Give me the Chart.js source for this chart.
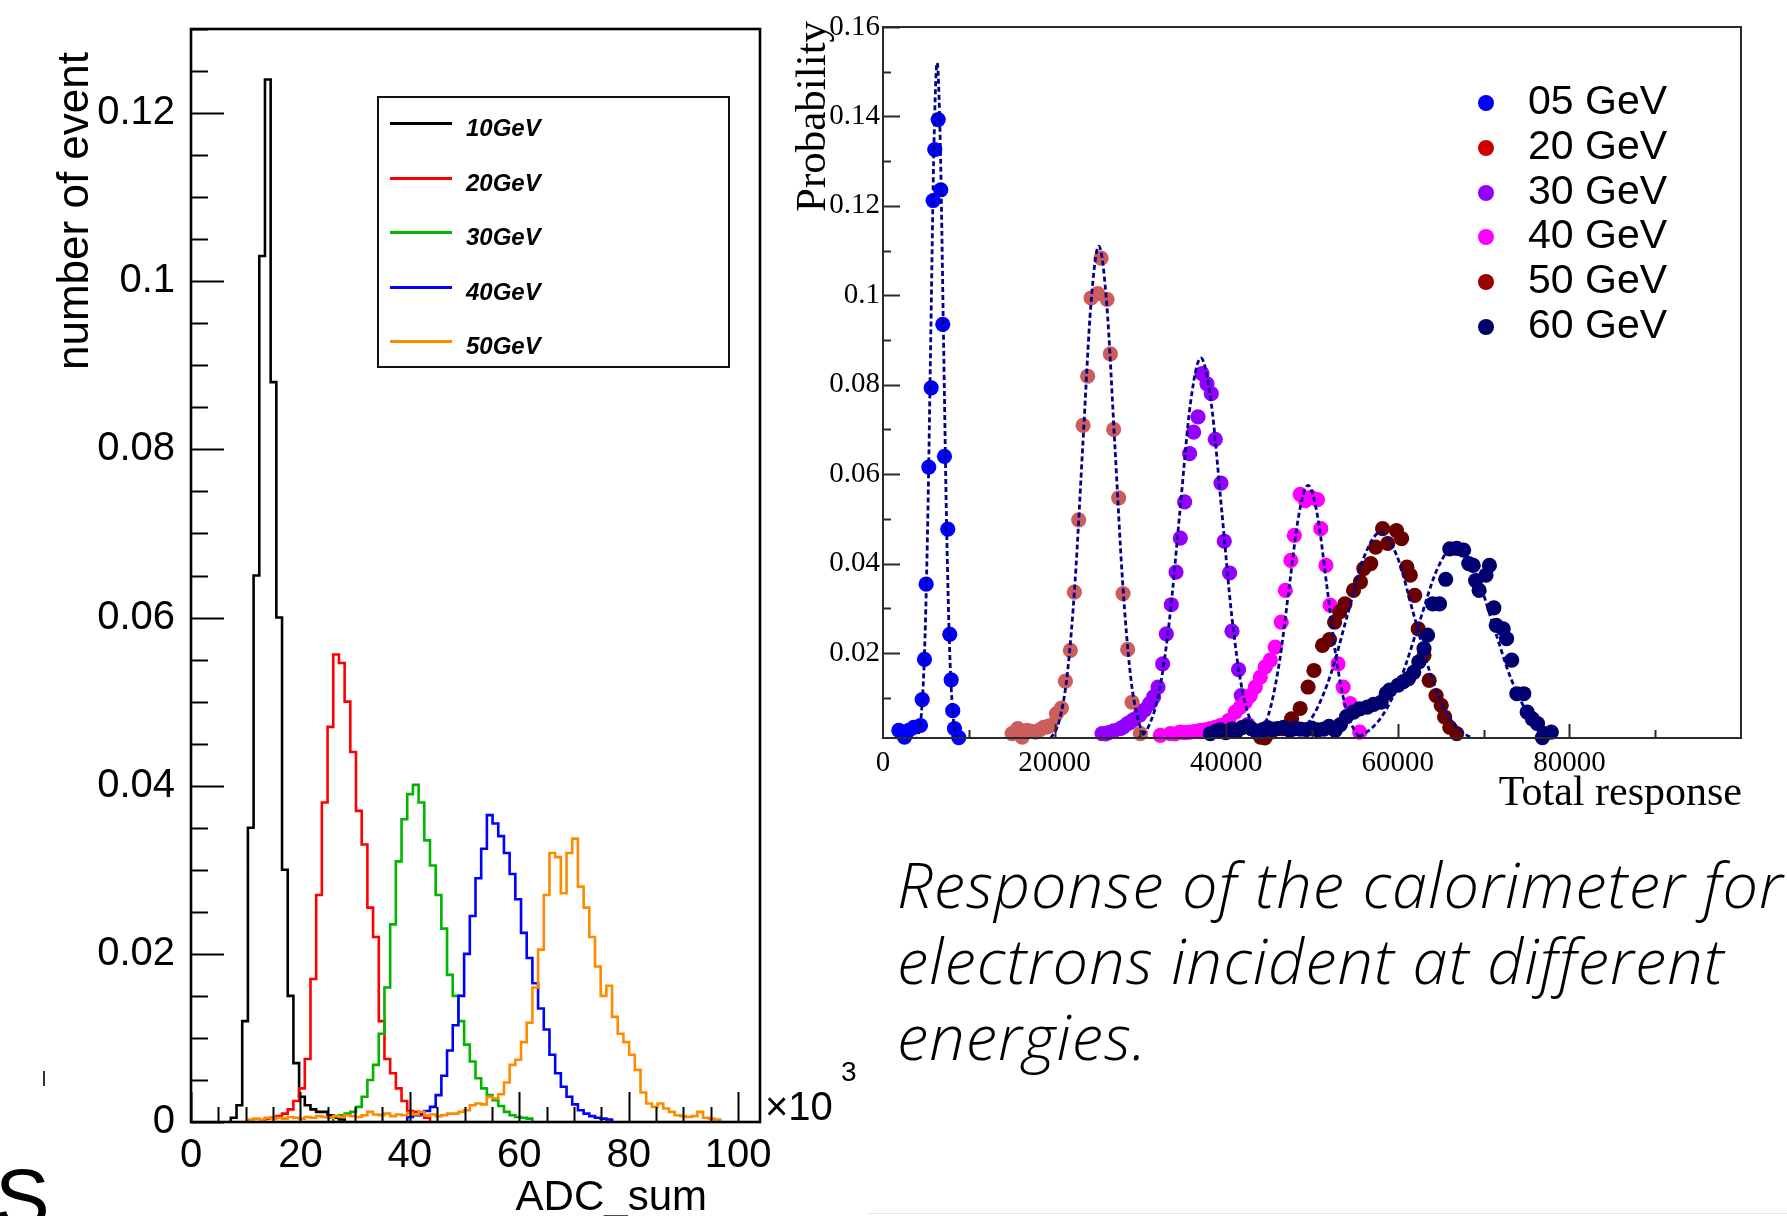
<!DOCTYPE html>
<html>
<head>
<meta charset="utf-8">
<title>Calorimeter response to electrons</title>
<script src="https://cdn.jsdelivr.net/npm/chart.js@4.4.1/dist/chart.umd.min.js"></script>
<style>
  html, body { margin: 0; padding: 0; background: #fff; }
  body { position: relative; width: 1787px; height: 1216px; overflow: hidden;
         font-family: "Liberation Sans", Arial, sans-serif; color: #000; }
  canvas { position: absolute; }
  #histCanvas { left: 0; top: 0; }
  #respCanvas { left: 780px; top: 0; }
  .txt { position: absolute; white-space: nowrap; }
  .rot { transform-origin: 0 0; }
  .hleg { position: absolute; left: 377px; top: 96px; width: 349px; height: 268px; border: 2px solid #111; }
  .hleg-line { position: absolute; left: 390px; width: 62px; height: 3px; }
  .hleg-text { position: absolute; left: 466px; font: italic bold 24px/24px "Liberation Sans", Arial, sans-serif; }
  .rleg-dot { position: absolute; width: 16px; height: 16px; border-radius: 50%; }
  .rleg-text { position: absolute; left: 1528px; font: 41px/41px "Liberation Sans", Arial, sans-serif; }
  .caption { position: absolute; left: 897px; top: 846px; font-family: "Open Sans", sans-serif;
             font-style: italic; font-weight: 300; font-size: 63px; line-height: 76px;
             letter-spacing: 1.1px; white-space: nowrap; }
</style>
</head>
<body>
<canvas id="histCanvas" width="880" height="1216"></canvas>
<canvas id="respCanvas" width="1007" height="830"></canvas>

<!-- ADC_sum histogram: axis titles and legend -->
<div class="txt rot" style="left:0;top:0;font-size:44px;line-height:44px;transform:translate(51px,370px) rotate(-90deg);">number of event</div>
<div class="txt" style="right:1080px;top:1175px;font-size:42px;line-height:42px;">ADC_sum</div>
<div class="txt" style="left:765px;top:1086px;font-size:40px;line-height:40px;">×10</div>
<div class="txt" style="left:841px;top:1058px;font-size:28px;line-height:28px;">3</div>

<div class="hleg"></div>
<div id="histLegend"></div>

<!-- Total response plot: axis titles and legend -->
<div class="txt rot" style="left:0;top:0;font-family:'Liberation Serif','Times New Roman',serif;font-size:43px;line-height:43px;transform:translate(789px,212px) rotate(-90deg);">Probability</div>
<div class="txt" style="right:45px;top:770px;font-family:'Liberation Serif','Times New Roman',serif;font-size:42px;line-height:42px;">Total response</div>
<div id="respLegend"></div>

<div class="caption">Response of the calorimeter for<br>electrons incident at different<br>energies.</div>

<div class="txt" style="left:-5px;top:1157px;font-family:'Liberation Sans',Arial,sans-serif;font-weight:400;font-style:normal;font-size:82px;line-height:82px;">S</div>
<div style="position:absolute;left:43px;top:1071px;width:2px;height:15px;background:#333;"></div>
<div style="position:absolute;left:868px;top:1213px;width:919px;height:1px;background:#e6e6e6;"></div>

<script>
// ---------- ADC_sum histograms (bin width 1.04 ×10³ counts) ----------
const ADC_BIN = 1.04;

const histLabels = ['10GeV', '20GeV', '30GeV', '40GeV', '50GeV'];
const histColors = ['#000000', '#ff0000', '#00b400', '#0000ff', '#ff8a00'];

const h10Start = 7;
const h10 = [0.0005, 0.002, 0.012, 0.035, 0.065, 0.103, 0.124, 0.088, 0.060, 0.030,
             0.015, 0.007, 0.003, 0.002, 0.0015, 0.0012, 0.0012, 0.0008, 0.0005, 0.0003];

const h20Start = 13;
const h20 = [0.0004, 0.0005, 0.0007, 0.001, 0.0015, 0.0025, 0.004, 0.0075, 0.017, 0.027,
             0.038, 0.047, 0.0556, 0.0546, 0.050, 0.044, 0.037, 0.033, 0.0255, 0.022,
             0.012, 0.0075, 0.0058, 0.004, 0.0025, 0.0013, 0.0012, 0.0008, 0.0005];

const h30Start = 25;
const h30 = [0.0007, 0.0008, 0.001, 0.0012, 0.0018, 0.003, 0.005, 0.0068, 0.0105, 0.016,
             0.0235, 0.031, 0.036, 0.039, 0.0401, 0.038, 0.0335, 0.0305, 0.027, 0.023,
             0.0175, 0.015, 0.012, 0.0092, 0.0072, 0.0052, 0.004, 0.0032, 0.0026, 0.0019,
             0.0012, 0.0008, 0.0006, 0.0005, 0.0004];

const h40Start = 38;
const h40 = [0.0006, 0.0008, 0.001, 0.0013, 0.0018, 0.0032, 0.0055, 0.0085, 0.0115, 0.015,
             0.020, 0.0245, 0.029, 0.0325, 0.0365, 0.0355, 0.034, 0.032, 0.0295, 0.0265,
             0.0225, 0.0195, 0.0165, 0.0135, 0.011, 0.008, 0.0058, 0.0042, 0.003, 0.0021,
             0.0014, 0.001, 0.0007, 0.0005, 0.0004, 0.0003];

const h50Start = 10;
const h50 = [0.0003, 0.0004, 0.0003, 0.0005, 0.0004, 0.0005, 0.0004, 0.0006, 0.0005, 0.0004,
             0.0006, 0.0005, 0.0007, 0.0006, 0.0005, 0.0007, 0.0006, 0.0008, 0.0007, 0.0006,
             0.0008, 0.0012, 0.0009, 0.0008, 0.001, 0.0007, 0.0009, 0.0008, 0.0011, 0.0009,
             0.0012, 0.0008, 0.0009,
             0.0007, 0.0008, 0.001, 0.001, 0.0012, 0.0014, 0.002, 0.0022, 0.0021, 0.003,
             0.0028, 0.0033, 0.0047, 0.0068, 0.0074, 0.0095, 0.0118, 0.016, 0.0205, 0.027,
             0.032, 0.0315, 0.0272, 0.032, 0.0337, 0.028, 0.0255, 0.022, 0.0185, 0.015,
             0.0162, 0.0125, 0.0105, 0.0095, 0.008, 0.0062, 0.0035, 0.0022, 0.0018, 0.0022,
             0.0016, 0.0012, 0.0008, 0.0007, 0.0006, 0.0007, 0.0012, 0.0005, 0.0004, 0.0003];

const histXTicks = [0, 20, 40, 60, 80, 100];
const histXLabels = ['0', '20', '40', '60', '80', '100'];
const histYTicks = [0, 0.02, 0.04, 0.06, 0.08, 0.1, 0.12];
const histYLabels = ['0', '0.02', '0.04', '0.06', '0.08', '0.1', '0.12'];

// ---------- Total response (points + gaussian fits) ----------
const respLabels = ['05 GeV', '20 GeV', '30 GeV', '40 GeV', '50 GeV', '60 GeV'];
const respPointColors = ['#0000ff', '#cd5c5c', '#9400ff', '#ff00ff', '#6a0000', '#00006e'];
const respLegendColors = ['#0000ff', '#cc0000', '#9400ff', '#ff00ff', '#990000', '#000066'];

const e05X = [1841, 2236, 2505, 3005, 3587, 4368, 4566, 4834, 5031, 5334, 5614, 5846, 6035, 6430, 6732, 6965, 7164, 7548, 7780, 7944, 8130, 8328, 8829];
const e05Y = [0.0027, 0.0023, 0.0012, 0.0027, 0.0034, 0.0038, 0.0096, 0.0186, 0.0354, 0.0616, 0.0793, 0.1212, 0.1326, 0.1393, 0.1236, 0.0935, 0.0640, 0.0477, 0.0242, 0.0140, 0.0071, 0.0031, 0.0011];

const e20X = [15049, 15703, 16214, 16796, 17262, 17764, 18249, 18731, 19136, 19510, 20210, 20792, 21258, 21840, 22307, 22807, 23319, 23855, 24251, 25019, 25416, 26114, 26499, 26883, 27466, 27979, 28515, 29028, 29994];
const e20Y = [0.0020, 0.0031, 0.0012, 0.0027, 0.0025, 0.0023, 0.0028, 0.0034, 0.0035, 0.0038, 0.0064, 0.0077, 0.0137, 0.0206, 0.0336, 0.0498, 0.0709, 0.0819, 0.0994, 0.1004, 0.1083, 0.0991, 0.0869, 0.0700, 0.0547, 0.0333, 0.0208, 0.0090, 0.0020];

const e30X = [25532, 25945, 26301, 26883, 27665, 28017, 28515, 28806, 29213, 29913, 30495, 31077, 31543, 32055, 32591, 33022, 33604, 34152, 34652, 35153, 35735, 36202, 36713, 37179, 37761, 38262, 38729, 39390, 39775, 40394, 40674, 41442, 41757, 42521];
const e30Y = [0.0020, 0.0019, 0.0022, 0.0026, 0.0031, 0.0035, 0.0042, 0.0045, 0.0051, 0.0061, 0.0073, 0.0087, 0.0102, 0.0124, 0.0176, 0.0243, 0.0308, 0.0381, 0.0457, 0.0538, 0.0646, 0.0694, 0.0728, 0.0825, 0.0802, 0.0780, 0.0678, 0.0580, 0.0450, 0.0379, 0.0249, 0.0163, 0.0105, 0.0040];

const e40X = [32324, 33488, 34036, 34653, 35219, 35818, 36403, 36983, 37538, 38148, 38722, 39313, 40277, 41060, 41642, 42224, 42807, 43389, 43972, 44554, 45136, 45718, 46416, 46898, 47536, 47944, 48618, 49219, 49900, 50627, 51023, 51624, 52105, 53032, 53633, 54439, 55558];
const e40Y = [0.0016, 0.0020, 0.0019, 0.0023, 0.0022, 0.0023, 0.0025, 0.0027, 0.0028, 0.0031, 0.0034, 0.0038, 0.0049, 0.0068, 0.0079, 0.0090, 0.0105, 0.0124, 0.0146, 0.0169, 0.0184, 0.0213, 0.0269, 0.0340, 0.0407, 0.0463, 0.0555, 0.0541, 0.0548, 0.0543, 0.0478, 0.0396, 0.0307, 0.0176, 0.0124, 0.0087, 0.0023];

const e50X = [44011, 44495, 45214, 46622, 47621, 48618, 49543, 50228, 51227, 52034, 52636, 53237, 53839, 54841, 55644, 56039, 56846, 57427, 58229, 58830, 59841, 60442, 61057, 61454, 61973, 62379, 63053, 63655, 64461, 65062, 65458, 66059, 66866];
const e50Y = [0.0012, 0.0010, 0.0023, 0.0031, 0.0053, 0.0076, 0.0124, 0.0161, 0.0217, 0.0230, 0.0269, 0.0292, 0.0310, 0.0340, 0.0359, 0.0389, 0.0400, 0.0437, 0.0478, 0.0445, 0.0474, 0.0456, 0.0392, 0.0374, 0.0329, 0.0254, 0.0195, 0.0139, 0.0105, 0.0083, 0.0057, 0.0034, 0.0020];

const e60X = [38148, 38772, 39315, 39956, 40647, 41239, 41831, 42423, 42917, 43508, 44199, 44791, 45383, 45975, 46692, 47405, 48016, 48628, 49341, 49953, 50666, 51380, 51991, 52704, 53316, 54029, 54842, 55557, 56444, 57188, 58049, 58651, 59050, 60041, 60653, 61254, 61852, 62453, 63054, 63464, 64066, 64861, 65580, 66060, 66868, 67663, 68272, 68790, 69069, 69477, 70272, 70680, 71197, 71474, 72279, 72676, 73277, 73878, 74683, 75080, 75681, 76282, 76853, 77087, 77892];
const e60Y = [0.0020, 0.0025, 0.0028, 0.0022, 0.0030, 0.0026, 0.0033, 0.0036, 0.0031, 0.0025, 0.0028, 0.0033, 0.0030, 0.0031, 0.0034, 0.0027, 0.0031, 0.0030, 0.0029, 0.0032, 0.0028, 0.0030, 0.0036, 0.0027, 0.0040, 0.0058, 0.0068, 0.0075, 0.0079, 0.0085, 0.0090, 0.0110, 0.0117, 0.0128, 0.0136, 0.0143, 0.0157, 0.0180, 0.0210, 0.0240, 0.0310, 0.0310, 0.0365, 0.0433, 0.0434, 0.0430, 0.0400, 0.0396, 0.0362, 0.0340, 0.0374, 0.0396, 0.0301, 0.0262, 0.0254, 0.0232, 0.0184, 0.0109, 0.0109, 0.0068, 0.0053, 0.0042, 0.0011, 0.0020, 0.0023];

// fitted curves, sampled along each peak
const fit05X = [3754, 4119, 4484, 4849, 5214, 5579, 5944, 6309, 6674, 7039, 7404, 7769, 8134, 8500, 8865];
const fit05Y = [0.0003, 0.0017, 0.0067, 0.0206, 0.0494, 0.0922, 0.1341, 0.1520, 0.1341, 0.0922, 0.0494, 0.0206, 0.0067, 0.0017, 0.0003];
const fit20X = [18697, 19620, 20542, 21465, 22387, 23310, 24232, 25155, 26078, 27000, 27923, 28845, 29768, 30690, 31613];
const fit20Y = [0.0002, 0.0012, 0.0049, 0.0150, 0.0360, 0.0673, 0.0980, 0.1110, 0.0980, 0.0673, 0.0360, 0.0150, 0.0049, 0.0012, 0.0002];
const fit30X = [28586, 29795, 31003, 32212, 33420, 34629, 35837, 37045, 38254, 39462, 40671, 41879, 43088, 44296, 45505];
const fit30Y = [0.0002, 0.0010, 0.0038, 0.0116, 0.0279, 0.0522, 0.0759, 0.0860, 0.0759, 0.0522, 0.0279, 0.0116, 0.0038, 0.0010, 0.0002];
const fit40X = [41877, 42972, 44068, 45163, 46259, 47354, 48450, 49545, 50641, 51736, 52832, 53927, 55023, 56118, 57214];
const fit40Y = [0.0001, 0.0006, 0.0025, 0.0078, 0.0187, 0.0349, 0.0507, 0.0575, 0.0507, 0.0349, 0.0187, 0.0078, 0.0025, 0.0006, 0.0001];
const fit50X = [44450, 46386, 48322, 50258, 52194, 54130, 56066, 58002, 59938, 61874, 63810, 65746, 67682, 69618, 71554];
const fit50Y = [0.0001, 0.0005, 0.0021, 0.0064, 0.0153, 0.0285, 0.0415, 0.0470, 0.0415, 0.0285, 0.0153, 0.0064, 0.0021, 0.0005, 0.0001];
const fit60X = [51786, 53926, 56066, 58206, 60346, 62486, 64626, 66766, 68906, 71046, 73186, 75326, 77466, 79606, 81746];
const fit60Y = [0.0001, 0.0005, 0.0019, 0.0060, 0.0143, 0.0267, 0.0389, 0.0441, 0.0389, 0.0267, 0.0143, 0.0060, 0.0019, 0.0005, 0.0001];

const respXTicks = [0, 20000, 40000, 60000, 80000];
const respXLabels = ['0', '20000', '40000', '60000', '80000'];
const respYTicks = [0.02, 0.04, 0.06, 0.08, 0.1, 0.12, 0.14, 0.16];
const respYLabels = ['0.02', '0.04', '0.06', '0.08', '0.1', '0.12', '0.14', '0.16'];

// ---------- helpers ----------
function binPoints(start, vals) {
  const pts = [{ x: start * ADC_BIN, y: 0 }];
  vals.forEach((v, i) => pts.push({ x: (start + i) * ADC_BIN, y: v }));
  pts.push({ x: (start + vals.length) * ADC_BIN, y: 0 });
  return pts;
}
function zip(xs, ys) {
  const n = Math.min(xs.length, ys.length);
  const out = [];
  for (let i = 0; i < n; i++) out.push({ x: xs[i], y: ys[i] });
  return out;
}
function seg(ctx, x1, y1, x2, y2) { ctx.beginPath(); ctx.moveTo(x1, y1); ctx.lineTo(x2, y2); ctx.stroke(); }
function noPad(s) { s.paddingTop = 0; s.paddingBottom = 0; s.paddingLeft = 0; s.paddingRight = 0; }

Chart.defaults.animation = false;
Chart.defaults.color = '#000';
Chart.defaults.font.family = '"Liberation Sans", Arial, sans-serif';

// ROOT-style frame with inward ticks on the left and bottom axes
const histFrame = {
  id: 'histFrame',
  afterDatasetsDraw(chart) {
    const { ctx, chartArea: a, scales: { x, y } } = chart;
    ctx.save();
    ctx.strokeStyle = '#000';
    ctx.lineWidth = 2;
    for (let k = 0; k <= 26; k++) {
      const py = Math.round(y.getPixelForValue(k * 0.005)) + 0.5;
      seg(ctx, a.left, py, a.left + (k % 4 === 0 ? 33 : 17), py);
    }
    for (let k = 0; k <= 20; k++) {
      const px = Math.round(x.getPixelForValue(k * 5)) + 0.5;
      seg(ctx, px, a.bottom, px, a.bottom - (k % 4 === 0 ? 30 : 15));
    }
    ctx.lineWidth = 2.6;
    ctx.strokeRect(a.left, a.top, a.right - a.left, a.bottom - a.top);
    ctx.restore();
  }
};

const respFrame = {
  id: 'respFrame',
  afterDatasetsDraw(chart) {
    const { ctx, chartArea: a, scales: { x, y } } = chart;
    ctx.save();
    ctx.strokeStyle = '#2b2b2b';
    ctx.lineWidth = 2;
    for (let k = 1; k <= 16; k++) {
      const py = Math.round(y.getPixelForValue(k * 0.01)) + 0.5;
      seg(ctx, a.left, py, a.left + (k % 2 === 0 ? 17 : 8), py);
    }
    for (let k = 1; k <= 9; k++) {
      const px = Math.round(x.getPixelForValue(k * 10000)) + 0.5;
      seg(ctx, px, a.bottom, px, a.bottom - (k % 2 === 0 ? 14 : 8));
    }
    ctx.strokeRect(a.left, a.top, a.right - a.left, a.bottom - a.top);
    ctx.restore();
  }
};

// ---------- left: ADC_sum ----------
const histStarts = [h10Start, h20Start, h30Start, h40Start, h50Start];
const histValues = [h10, h20, h30, h40, h50];

new Chart(document.getElementById('histCanvas'), {
  type: 'line',
  data: {
    datasets: histValues.map((vals, i) => ({
      label: histLabels[i],
      data: binPoints(histStarts[i], vals),
      borderColor: histColors[i],
      borderWidth: 2.6,
      stepped: 'before',
      pointRadius: 0,
      fill: false,
      order: histValues.length - 1 - i
    }))
  },
  options: {
    responsive: false,
    events: [],
    layout: { padding: { left: 0, top: 29, right: 120, bottom: 0 } },
    plugins: { legend: { display: false }, tooltip: { enabled: false } },
    scales: {
      x: {
        type: 'linear', min: 0, max: 104,
        grid: { display: false, drawTicks: false }, border: { display: false },
        afterBuildTicks: s => { s.ticks = histXTicks.map(v => ({ value: v })); },
        afterFit: s => { s.height = 94; noPad(s); },
        ticks: { autoSkip: false, maxRotation: 0, padding: 10,
                 font: { size: 40 }, color: '#000',
                 callback: (v, i) => histXLabels[i] }
      },
      y: {
        type: 'linear', min: 0, max: 0.13,
        grid: { display: false, drawTicks: false }, border: { display: false },
        afterBuildTicks: s => { s.ticks = histYTicks.map(v => ({ value: v })); },
        afterFit: s => { s.width = 191; noPad(s); },
        ticks: { autoSkip: false, padding: 16,
                 font: { size: 40 }, color: '#000',
                 callback: (v, i) => histYLabels[i] }
      }
    }
  },
  plugins: [histFrame]
});

// left legend
(function () {
  const box = document.getElementById('histLegend');
  histLabels.forEach((name, i) => {
    const ln = document.createElement('div');
    ln.className = 'hleg-line';
    ln.style.top = (122 + 54.5 * i) + 'px';
    ln.style.background = histColors[i];
    box.appendChild(ln);
    const tx = document.createElement('div');
    tx.className = 'hleg-text';
    tx.style.top = (116 + 54.5 * i) + 'px';
    tx.textContent = name;
    box.appendChild(tx);
  });
})();

// ---------- right: Total response ----------
const respPoints = [zip(e05X, e05Y), zip(e20X, e20Y), zip(e30X, e30Y), zip(e40X, e40Y), zip(e50X, e50Y), zip(e60X, e60Y)];
const respFits = [zip(fit05X, fit05Y), zip(fit20X, fit20Y), zip(fit30X, fit30Y), zip(fit40X, fit40Y), zip(fit50X, fit50Y), zip(fit60X, fit60Y)];

const respDatasets = respPoints.map((pts, i) => ({
  label: respLabels[i],
  data: pts,
  showLine: false,
  pointRadius: 7.6,
  pointBorderWidth: 0,
  pointBackgroundColor: respPointColors[i],
  pointBorderColor: respPointColors[i],
  clip: false,
  order: 6 - i
})).concat(respFits.map((pts, i) => ({
  label: respLabels[i] + ' fit',
  data: pts,
  showLine: true,
  pointRadius: 0,
  borderColor: '#00008b',
  borderWidth: 2.8,
  borderDash: [5, 3],
  cubicInterpolationMode: 'monotone',
  fill: false,
  order: 0
})));

new Chart(document.getElementById('respCanvas'), {
  type: 'scatter',
  data: { datasets: respDatasets },
  options: {
    responsive: false,
    events: [],
    layout: { padding: { left: 0, top: 27, right: 46, bottom: 0 } },
    plugins: { legend: { display: false }, tooltip: { enabled: false } },
    scales: {
      x: {
        type: 'linear', min: 0, max: 100000,
        grid: { display: false, drawTicks: false }, border: { display: false },
        afterBuildTicks: s => { s.ticks = respXTicks.map(v => ({ value: v })); },
        afterFit: s => { s.height = 92; noPad(s); },
        ticks: { autoSkip: false, maxRotation: 0, padding: 8,
                 font: { family: '"Liberation Serif", "Times New Roman", serif', size: 29 }, color: '#000',
                 callback: (v, i) => respXLabels[i] }
      },
      y: {
        type: 'linear', min: 0.001, max: 0.16,
        grid: { display: false, drawTicks: false }, border: { display: false },
        afterBuildTicks: s => { s.ticks = respYTicks.map(v => ({ value: v })); },
        afterFit: s => { s.width = 103; noPad(s); },
        ticks: { autoSkip: false, padding: 3,
                 font: { family: '"Liberation Serif", "Times New Roman", serif', size: 29 }, color: '#000',
                 callback: (v, i) => respYLabels[i] }
      }
    }
  },
  plugins: [respFrame]
});

// right legend
(function () {
  const box = document.getElementById('respLegend');
  respLabels.forEach((name, i) => {
    const d = document.createElement('div');
    d.className = 'rleg-dot';
    d.style.left = '1478px';
    d.style.top = (95 + 44.8 * i) + 'px';
    d.style.background = respLegendColors[i];
    box.appendChild(d);
    const t = document.createElement('div');
    t.className = 'rleg-text';
    t.style.top = (80 + 44.8 * i) + 'px';
    t.textContent = name;
    box.appendChild(t);
  });
})();
</script>
</body>
</html>
